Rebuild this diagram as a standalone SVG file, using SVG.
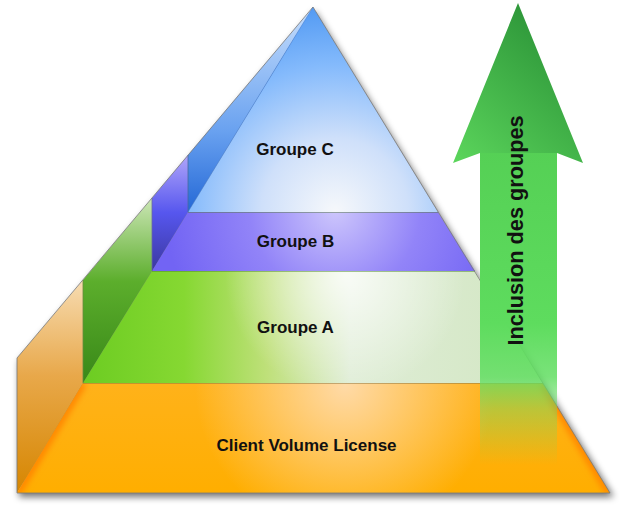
<svg xmlns="http://www.w3.org/2000/svg" width="626" height="511" viewBox="0 0 626 511">
<style>
.lbl{font-family:"Liberation Sans",Arial,sans-serif;font-weight:bold;font-size:17px;fill:#111;text-anchor:middle}
.sep{stroke-width:1.2;fill:none}
.edge{fill:none;stroke:#7a7a7a;stroke-width:0.8}
</style>
<defs>
<filter id="shadow" x="-10%" y="-10%" width="125%" height="125%">
<feGaussianBlur stdDeviation="3.5"/>
</filter>
<filter id="soft" x="-20%" y="-20%" width="140%" height="140%">
<feGaussianBlur stdDeviation="3"/>
</filter>
<radialGradient id="blueFront" gradientUnits="userSpaceOnUse" cx="335" cy="212" r="210">
<stop offset="0" stop-color="#f6f8fb"/>
<stop offset="0.35" stop-color="#cfe0fa"/>
<stop offset="0.7" stop-color="#84bafc"/>
<stop offset="1" stop-color="#4f98f2"/>
</radialGradient>
<linearGradient id="blueSide" gradientUnits="userSpaceOnUse" x1="0" y1="7" x2="0" y2="212">
<stop offset="0" stop-color="#c6defc"/>
<stop offset="0.6" stop-color="#6aa2f0"/>
<stop offset="1" stop-color="#2468d6"/>
</linearGradient>
<radialGradient id="purpleFront" gradientUnits="userSpaceOnUse" cx="335" cy="210" r="170">
<stop offset="0" stop-color="#cdc6fc"/>
<stop offset="0.5" stop-color="#9284f8"/>
<stop offset="1" stop-color="#7264f4"/>
</radialGradient>
<linearGradient id="purpleSide" gradientUnits="userSpaceOnUse" x1="0" y1="155" x2="0" y2="271">
<stop offset="0" stop-color="#b0a6fa"/>
<stop offset="0.5" stop-color="#5656ee"/>
<stop offset="1" stop-color="#3b38a0"/>
</linearGradient>
<linearGradient id="greenFront" gradientUnits="userSpaceOnUse" x1="83" y1="0" x2="543" y2="0">
<stop offset="0" stop-color="#6ccc22"/>
<stop offset="0.22" stop-color="#86d832"/>
<stop offset="0.4" stop-color="#bfe07a"/>
<stop offset="0.58" stop-color="#dfedd6"/>
<stop offset="1" stop-color="#d2e6c2"/>
</linearGradient>
<radialGradient id="greenHi" gradientUnits="userSpaceOnUse" cx="345" cy="275" r="120">
<stop offset="0" stop-color="#ffffff" stop-opacity="0.8"/>
<stop offset="1" stop-color="#ffffff" stop-opacity="0"/>
</radialGradient>
<linearGradient id="greenSide" gradientUnits="userSpaceOnUse" x1="0" y1="198" x2="0" y2="383">
<stop offset="0" stop-color="#cce6b6"/>
<stop offset="0.45" stop-color="#5cae2c"/>
<stop offset="1" stop-color="#388818"/>
</linearGradient>
<linearGradient id="orangeFront" gradientUnits="userSpaceOnUse" x1="0" y1="383" x2="0" y2="493">
<stop offset="0" stop-color="#ffb21a"/>
<stop offset="1" stop-color="#ffae00"/>
</linearGradient>
<radialGradient id="orangeHi" gradientUnits="userSpaceOnUse" cx="345" cy="385" r="150">
<stop offset="0" stop-color="#ffdcae" stop-opacity="0.95"/>
<stop offset="1" stop-color="#ffdcae" stop-opacity="0"/>
</radialGradient>
<linearGradient id="orangeSide" gradientUnits="userSpaceOnUse" x1="0" y1="280" x2="0" y2="493">
<stop offset="0" stop-color="#f7dcb2"/>
<stop offset="0.45" stop-color="#e8a84a"/>
<stop offset="1" stop-color="#d68600"/>
</linearGradient>
<linearGradient id="arrowHead" gradientUnits="userSpaceOnUse" x1="575" y1="40" x2="460" y2="170">
<stop offset="0" stop-color="#2c9438"/>
<stop offset="1" stop-color="#5cd65c"/>
</linearGradient>
<linearGradient id="arrowShaft" gradientUnits="userSpaceOnUse" x1="0" y1="150" x2="0" y2="465">
<stop offset="0" stop-color="#55d055" stop-opacity="1"/>
<stop offset="0.55" stop-color="#5edc5e" stop-opacity="1"/>
<stop offset="0.72" stop-color="#62de62" stop-opacity="0.85"/>
<stop offset="0.82" stop-color="#66dd66" stop-opacity="0.45"/>
<stop offset="1" stop-color="#6adf6a" stop-opacity="0"/>
</linearGradient>
<clipPath id="orangeClip"><polygon points="83,383 543,383 610,493 17,493"/></clipPath>
</defs>

<!-- shadow of pyramid -->
<polygon points="19,362 315,11 614,497 19,497" fill="#000" opacity="0.55" filter="url(#shadow)"/>

<g id="tier-client">
<polygon points="17,493 17,358 83,280 83,383" fill="url(#orangeSide)"/>
<polygon points="83,383 543,383 610,493 17,493" fill="url(#orangeFront)"/>
<polygon points="83,383 543,383 610,493 17,493" fill="url(#orangeHi)"/>
<g clip-path="url(#orangeClip)" filter="url(#soft)">
<line x1="83" y1="383" x2="17" y2="493" stroke="#ff8400" stroke-width="8"/>
<line x1="543" y1="383" x2="610" y2="493" stroke="#ff8400" stroke-width="8"/>
</g>
<line class="sep" x1="83" y1="383" x2="543" y2="383" stroke="#8a7440"/>
<text class="lbl" x="306.5" y="451">Client Volume License</text>
</g>

<g id="tier-a">
<polygon points="83,383 83,280 152,198 152,271" fill="url(#greenSide)"/>
<polygon points="152,271 475,271 543,383 83,383" fill="url(#greenFront)"/>
<polygon points="152,271 475,271 543,383 83,383" fill="url(#greenHi)"/>
<line class="sep" x1="152" y1="271" x2="475" y2="271" stroke="#4e8a2a"/>
<line x1="83" y1="280" x2="83" y2="383" stroke="#6a8a40" stroke-width="0.8"/>
<text class="lbl" x="295.5" y="333">Groupe A</text>
</g>

<g id="tier-b">
<polygon points="152,271 152,198 188,155 188,212" fill="url(#purpleSide)"/>
<polygon points="188,212 438,212 475,271 152,271" fill="url(#purpleFront)"/>
<line class="sep" x1="188" y1="212" x2="438" y2="212" stroke="#5a7a4a"/>
<line x1="152" y1="198" x2="152" y2="271" stroke="#6a6aa0" stroke-width="0.8"/>
<text class="lbl" x="295.5" y="247">Groupe B</text>
</g>

<g id="tier-c">
<polygon points="188,212 188,155 313,7" fill="url(#blueSide)"/>
<polygon points="313,7 438,212 188,212" fill="url(#blueFront)"/>
<line x1="188" y1="155" x2="188" y2="212" stroke="#4a6aa0" stroke-width="0.8"/>
<line x1="313" y1="7" x2="188" y2="212" stroke="#3a78d8" stroke-width="0.8" opacity="0.6"/>
<text class="lbl" x="295" y="155">Groupe C</text>
</g>

<polygon class="edge" points="17,493 17,358 313,7 610,493"/>

<g id="arrow">
<rect x="480" y="152" width="77" height="315" fill="url(#arrowShaft)"/>
<polygon points="518,3 583,163 557,153 480,153 453,163" fill="url(#arrowHead)"/>
<text class="lbl" style="font-size:21.7px" x="523" y="230.5" transform="rotate(-90 523 230.5)">Inclusion des groupes</text>
</g>

<g id="connectors"/>
</svg>
